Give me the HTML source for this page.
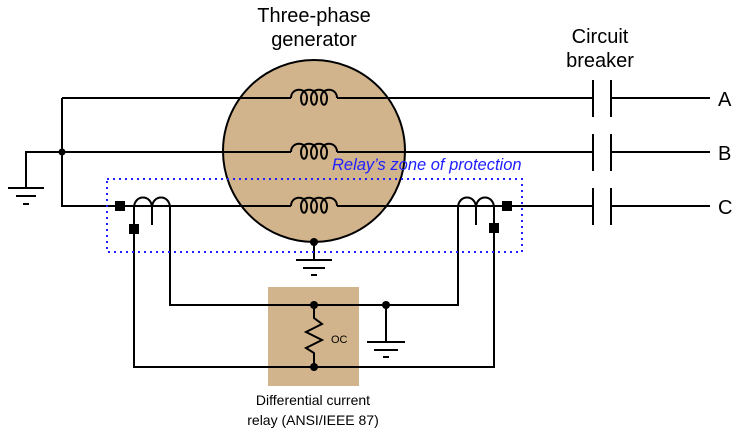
<!DOCTYPE html>
<html><head><meta charset="utf-8"><style>
html,body{margin:0;padding:0;background:#fff;}
svg{display:block;font-family:"Liberation Sans",Arial,sans-serif;}
</style></head><body>
<svg width="742" height="438" viewBox="0 0 742 438" xmlns="http://www.w3.org/2000/svg">
<defs>
<path id="coil" d="M0,0 C0,-11 16,-11 16,0 C16,9 10,9 10,0 C10,-11 26,-11 26,0 C26,9 20,9 20,0 C20,-11 36,-11 36,0 C36,9 30,9 30,0 C30,-11 46,-11 46,0" fill="none" stroke="#000" stroke-width="2"/>
</defs>
<text x="314" y="22" font-size="20" text-anchor="middle">Three-phase</text>
<text x="314" y="46" font-size="20" text-anchor="middle">generator</text>
<text x="600" y="43" font-size="20" text-anchor="middle">Circuit</text>
<text x="600" y="67" font-size="20" text-anchor="middle">breaker</text>

<circle cx="314" cy="151" r="91" fill="#D2B48C" stroke="#000" stroke-width="2"/>

<g stroke="#000" stroke-width="2" fill="none">
<path d="M62,98 H291 M337,98 H593 M611,98 H710"/>
<path d="M26,188 V152 H291 M337,152 H593 M611,152 H710"/>
<path d="M62,98 V206 H291 M337,206 H593 M611,206 H710"/>
<path d="M593,80 V117 M611,80 V117 M593,134 V171 M611,134 V171 M593,188 V225 M611,188 V225"/>
<path d="M8,188 H44 M16,196 H36 M23,204 H29"/>
<path d="M314,242 V260 M296,260 H332 M303,268 H325 M311,275 H317"/>
<path d="M386,305 V342 M367,342 H405 M374,350 H398 M383,357 H389"/>
<path d="M134,208 C134,194 152,194 152,208 C152,194 170,194 170,208 M152,208 V225"/>
<path d="M134,208 V367 H494 V208 M170,208 V305 H458 V208"/>
<path d="M458,208 C458,194 476,194 476,208 C476,194 494,194 494,208 M476,208 V225"/>
</g>
<use href="#coil" x="291" y="98"/>
<use href="#coil" x="291" y="152"/>
<use href="#coil" x="291" y="206"/>

<rect x="115" y="201" width="10" height="10"/>
<rect x="129" y="224" width="10" height="10"/>
<rect x="502" y="201" width="10" height="10"/>
<rect x="489" y="223" width="10" height="10"/>

<rect x="107" y="179" width="415" height="73" fill="none" stroke="#2020ff" stroke-width="2" stroke-dasharray="2,4"/>
<text x="332" y="170" font-size="16.5" font-style="italic" fill="#2020ff">Relay’s zone of protection</text>

<rect x="268" y="287" width="91" height="99" fill="#D2B48C"/>
<g stroke="#000" stroke-width="2" fill="none">
<path d="M170,305 H458 M134,367 H494"/>
<path d="M314,305 V318 L322,324 L306,332 L322,340 L306,348 L314,353 V367"/>
</g>
<circle cx="62" cy="152" r="3.5"/>
<circle cx="314" cy="242" r="4"/>
<circle cx="314" cy="305" r="4"/>
<circle cx="314" cy="367" r="4"/>
<circle cx="386" cy="305" r="4"/>
<text x="331" y="343" font-size="11">OC</text>

<text x="718" y="106" font-size="20">A</text>
<text x="718" y="160" font-size="20">B</text>
<text x="718" y="214" font-size="20">C</text>

<text x="313" y="405" font-size="14" text-anchor="middle">Differential current</text>
<text x="313" y="425" font-size="14" text-anchor="middle">relay (ANSI/IEEE 87)</text>
</svg>
</body></html>
